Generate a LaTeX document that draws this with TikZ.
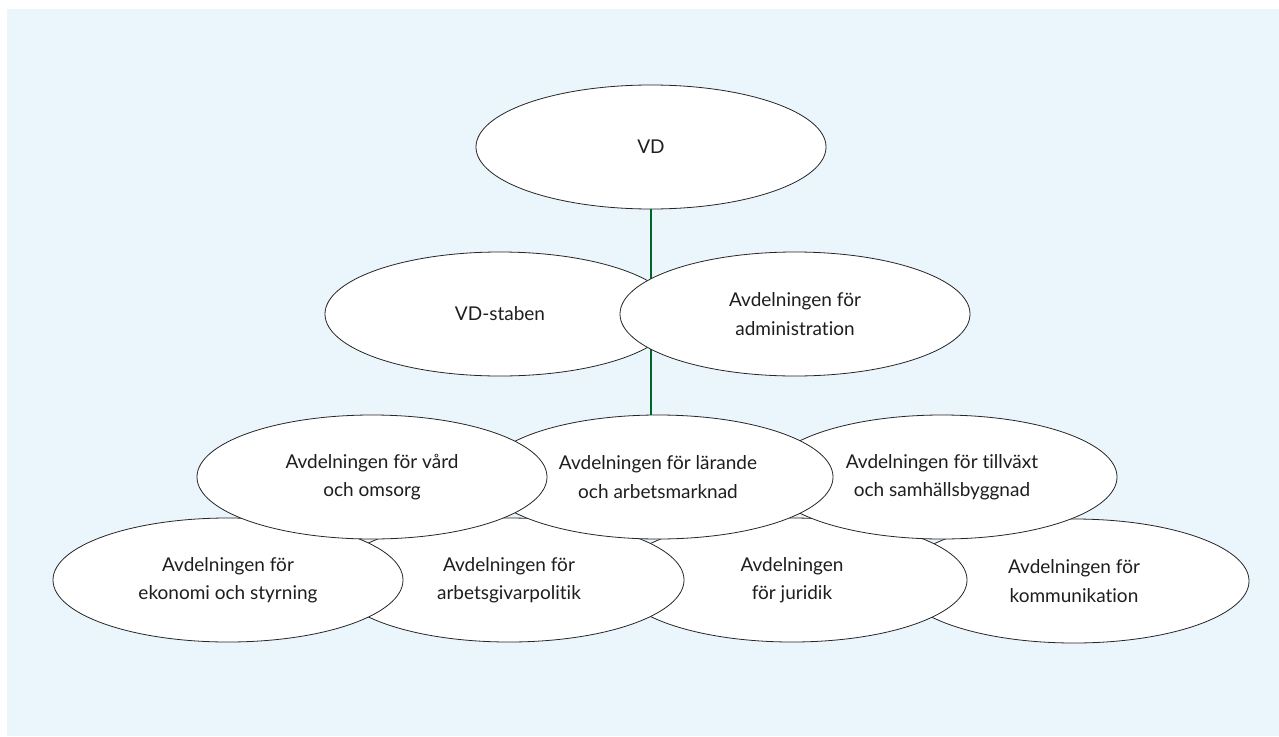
\documentclass[tikz,border=0pt]{standalone}
\usepackage{fontspec}
\setmainfont{Lato}[Ligatures=NoCommon]
\usetikzlibrary{shapes.geometric}
\definecolor{bgblue}{RGB}{234,245,252}
\definecolor{linegreen}{RGB}{0,100,40}
\definecolor{textgray}{RGB}{30,30,30}
\begin{document}
\begin{tikzpicture}[x=1pt,y=-1pt,font=\fontsize{19}{28.5}\selectfont,text=textgray]
    \tikzstyle{unit node}=[ellipse,draw=black!85,line width=0.8pt,fill=white,minimum width=350,minimum height=124,inner sep=0,align=center]
    \tikzstyle{link}=[draw=linegreen,line width=2.2pt]

    \useasboundingbox (0,0) rectangle (1279,736);
    \fill[bgblue] (7,9) rectangle (1279,736);

    % top
    \node(vd)[unit node] at (651,147) {VD};
    % bottom row, drawn right to left
    \node(kom)[unit node] at (1074,581) {Avdelningen för\\kommunikation};
    \node(jur)[unit node] at (792,580) {Avdelningen\\för juridik};
    \node(agp)[unit node] at (509,580) {Avdelningen för\\arbetsgivarpolitik};
    \node(eko)[unit node] at (228,580) {Avdelningen för\\ekonomi och styrning};
    % middle row
    \node(til)[unit node] at (942,477) {Avdelningen för tillväxt\\och samhällsbyggnad};
    \node(lar)[unit node] at (658,477) {Avdelningen för lärande\\och arbetsmarknad};
    \node(vard)[unit node] at (372,477) {Avdelningen för vård\\och omsorg};

    \draw[link] (vd.south) -- (vd.south |- lar.north);

    % staff
    \node(stab)[unit node] at (500,314) {VD-staben};
    \node(adm)[unit node] at (795,314) {Avdelningen för\\administration};
\end{tikzpicture}
\end{document}
